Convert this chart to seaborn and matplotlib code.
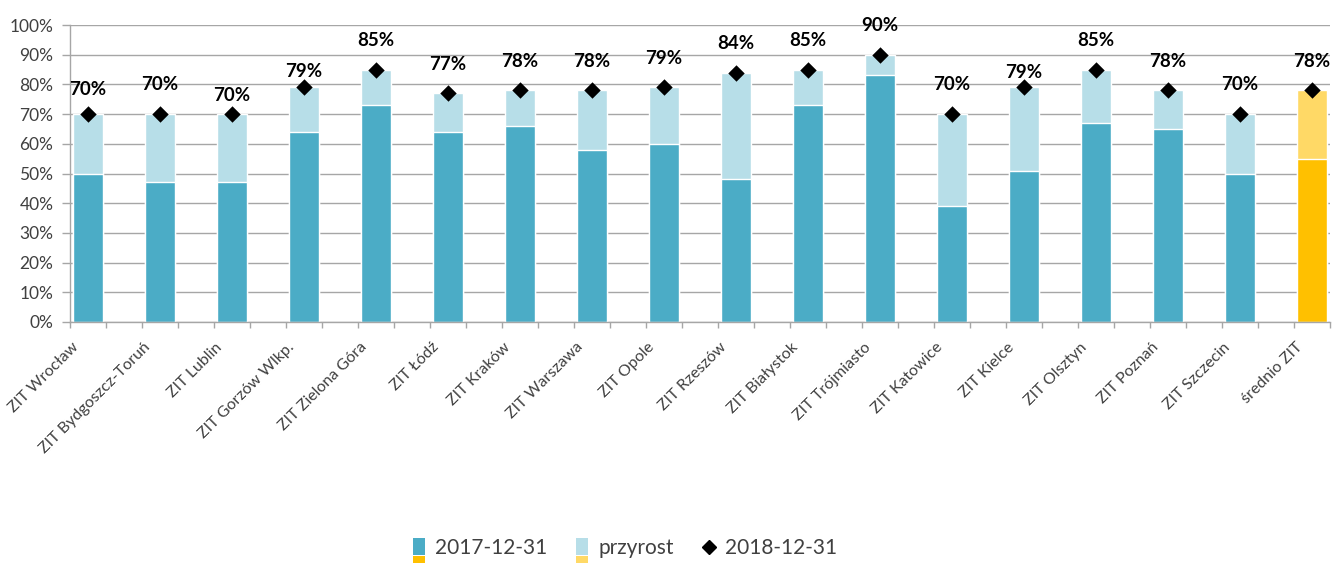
import numpy as np
import pandas as pd
import seaborn as sns
import matplotlib.pyplot as plt
import matplotlib.transforms as mtransforms
from matplotlib.legend_handler import HandlerBase
from matplotlib.patches import Rectangle, Patch
from matplotlib.lines import Line2D
from matplotlib.ticker import PercentFormatter

regions = ['ZIT Wrocław', 'ZIT Bydgoszcz-Toruń', 'ZIT Lublin', 'ZIT Gorzów Wlkp.',
           'ZIT Zielona Góra', 'ZIT Łódź', 'ZIT Kraków', 'ZIT Warszawa', 'ZIT Opole',
           'ZIT Rzeszów', 'ZIT Białystok', 'ZIT Trójmiasto', 'ZIT Katowice',
           'ZIT Kielce', 'ZIT Olsztyn', 'ZIT Poznań', 'ZIT Szczecin', 'średnio ZIT']
value_2017 = [50, 47, 47, 64, 73, 64, 66, 58, 60, 48, 73, 83, 39, 51, 67, 65, 50, 55]
value_2018 = [70, 70, 70, 79, 85, 77, 78, 78, 79, 84, 85, 90, 70, 79, 85, 78, 70, 78]
series_names = ['2017-12-31', 'przyrost', '2018-12-31']

df = pd.DataFrame({'region': regions, 'v2017': value_2017, 'v2018': value_2018})
df['pos'] = np.arange(len(df))

BLUE, LIGHT_BLUE = '#4BACC6', '#B7DEE8'
ORANGE, LIGHT_ORANGE = '#FFC000', '#FFD966'
GRID = '#A6A6A6'
TXT = '#404040'

sns.set_theme(style='white')
plt.rcParams['font.family'] = ['Lato', 'DejaVu Sans']

fig, ax = plt.subplots(figsize=(13.34, 5.63), dpi=100)
fig.subplots_adjust(left=70 / 1334, right=1330 / 1334, top=1 - 25 / 563, bottom=1 - 322 / 563)

n = len(df)
light_pal = [LIGHT_BLUE] * (n - 1) + [LIGHT_ORANGE]
dark_pal = [BLUE] * (n - 1) + [ORANGE]

# total 2018 bar (light) with the 2017 part drawn over it
sns.barplot(data=df, x='region', y='v2018', hue='region', palette=light_pal,
            width=0.417, saturation=1, errorbar=None, legend=False, ax=ax)
sns.barplot(data=df, x='region', y='v2017', hue='region', palette=dark_pal,
            width=0.417, saturation=1, errorbar=None, legend=False, ax=ax)
sns.scatterplot(data=df, x='pos', y='v2018', marker='D', color='black', s=70,
                linewidth=0, zorder=5, ax=ax)

# label heights above marker (a few sit lower, as in the original)
label_off = {0: 18, 2: 13.5, 3: 11.5, 13: 11}
for i, v in enumerate(value_2018):
    ax.annotate(f'{v}%', (i, v), xytext=(0, label_off.get(i, 21)),
                textcoords='offset points', ha='center', va='center',
                fontsize=13.5, fontweight='bold', color='black')

ax.set_ylim(0, 100)
ax.set_yticks(range(0, 101, 10))
ax.yaxis.set_major_formatter(PercentFormatter(decimals=0))
ax.set_xlim(-0.25, n - 0.75)
ax.set_xlabel('')
ax.set_ylabel('')
ax.yaxis.grid(True, color=GRID, lw=1)
ax.set_axisbelow(True)
for s in ['top', 'right']:
    ax.spines[s].set_visible(False)
for s in ['left', 'bottom']:
    ax.spines[s].set_color(GRID)
    ax.spines[s].set_linewidth(1)

ax.set_xticks(range(n))
ax.set_xticklabels(regions, rotation=45, ha='right', rotation_mode='anchor', fontsize=11.5, color=TXT)
ax.set_xticks(np.arange(-0.25, n - 0.5, 0.5), minor=True)
ax.tick_params(axis='x', which='major', length=0, pad=6)
ax.tick_params(axis='x', which='minor', length=4.5, width=1, color=GRID, direction='out', bottom=True)
ax.tick_params(axis='y', length=6, width=1, color=GRID, pad=6, labelsize=12.5, labelcolor=TXT, left=True)

shift = mtransforms.ScaledTranslation(-12 / 72, -7 / 72, fig.dpi_scale_trans)
for lab in ax.get_xticklabels():
    lab.set_transform(lab.get_transform() + shift)


class SplitPatch(HandlerBase):
    def __init__(self, top, bottom):
        super().__init__()
        self.top, self.bottom = top, bottom

    def create_artists(self, legend, orig_handle, xdescent, ydescent, width, height, fontsize, trans):
        r1 = Rectangle((-xdescent, -ydescent - 0.05 * height), width, 1.15 * height,
                       facecolor=self.top, edgecolor='none', transform=trans)
        r2 = Rectangle((-xdescent, -ydescent - 0.8 * height), width, 0.65 * height,
                       facecolor=self.bottom, edgecolor='none', transform=trans)
        return [r1, r2]


h1 = Patch(facecolor=BLUE)
h2 = Patch(facecolor=LIGHT_BLUE)
h3 = Line2D([], [], marker='D', color='black', linestyle='none', markersize=7.5)
fig.legend([h1, h2, h3], series_names, loc='center', bbox_to_anchor=(625 / 1334, 1 - 548 / 563),
           ncol=3, frameon=False, fontsize=15, handlelength=0.55, handletextpad=0.5,
           columnspacing=1.4, labelcolor=TXT,
           handler_map={h1: SplitPatch(BLUE, ORANGE), h2: SplitPatch(LIGHT_BLUE, LIGHT_ORANGE)})

fig.savefig('out.png', dpi=100)
